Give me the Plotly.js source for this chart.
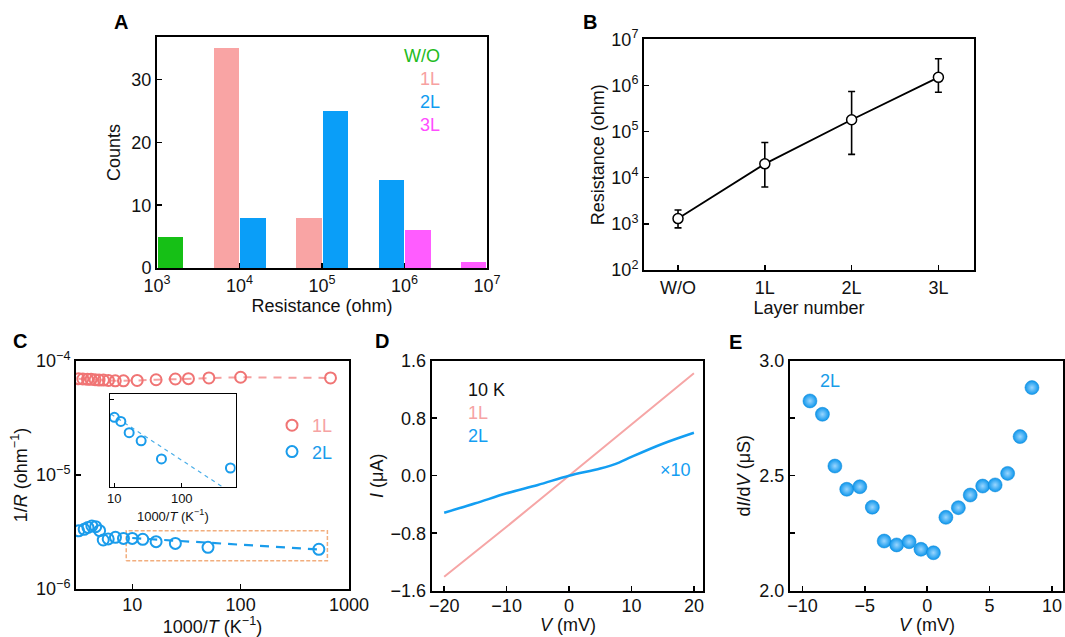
<!DOCTYPE html>
<html><head><meta charset="utf-8">
<script src="https://cdn.plot.ly/plotly-3.0.1.min.js"></script>
<style>html,body{margin:0;padding:0;background:#fff}#chart{width:1065px;height:637px}</style>
</head><body><div id="chart"></div>
<script>
// ---------- DATA ----------
// Panel A: histogram of resistance (bins given as log10(R) centres)
const aTickExp = [3, 4, 5, 6, 7];
const aTickText = ['10<sup>3</sup>', '10<sup>4</sup>', '10<sup>5</sup>', '10<sup>6</sup>', '10<sup>7</sup>'];
const woLogR = [3.165];            const woCounts = [5];
const l1LogR = [3.84, 4.84];       const l1Counts = [35, 8];
const l2LogR = [4.165, 5.165, 5.84]; const l2Counts = [8, 25, 14];
const l3LogR = [6.165, 6.835];     const l3Counts = [6, 1];
const aCountTicks = [0, 10, 20, 30];

// Panel B: resistance vs layer number
const bLayers = ['W/O', '1L', '2L', '3L'];
const bResistance = [1300, 20000, 180000, 1500000];
const bUpper = [2000, 58000, 740000, 3800000];
const bLower = [820, 6300, 32000, 710000];
const bTickVals = [1e2, 1e3, 1e4, 1e5, 1e6, 1e7];
const bTickText = ['10<sup>2</sup>', '10<sup>3</sup>', '10<sup>4</sup>', '10<sup>5</sup>', '10<sup>6</sup>', '10<sup>7</sup>'];

// Panel C: 1/R vs 1000/T
const c1LinvT = [3.2, 3.5, 3.86, 4.17, 4.54, 4.94, 5.42, 6.03, 6.97, 8.3, 11.1, 16.6, 25, 33, 51, 100, 675];
const c1LG = [7.0e-5, 6.95e-5, 6.9e-5, 6.9e-5, 6.85e-5, 6.8e-5, 6.8e-5, 6.75e-5, 6.7e-5, 6.7e-5, 6.75e-5, 6.85e-5, 6.95e-5, 7.0e-5, 7.1e-5, 7.2e-5, 7.1e-5];
const c2LinvT = [3.2, 3.6, 3.9, 4.24, 4.6, 5.0, 5.4, 6.0, 7.0, 8.3, 10, 12.5, 16.6, 25, 50, 527];
const c2LG = [3.24e-6, 3.34e-6, 3.47e-6, 3.57e-6, 3.52e-6, 3.25e-6, 2.69e-6, 2.75e-6, 2.84e-6, 2.78e-6, 2.78e-6, 2.73e-6, 2.60e-6, 2.51e-6, 2.32e-6, 2.23e-6];
const c2LFitX = [10, 525];
const c2LFitY = [2.8e-6, 2.22e-6];
const cBoxX = [8.8, 632];
const cBoxY = [1.77e-6, 3.25e-6];
const cInsetStart = 10;            // inset shows 2L points from index 10 on
const cInsetFitX = [8.9, 412];
const cInsetFitY = [2.82e-6, 2.05e-6];

// Panel D: I-V at 10 K (2L scaled x10)
const dV = [-20, -15, -10, -5, 0, 5, 10, 15, 20];
const d1LI = [-1.405, -1.06, -0.71, -0.355, 0, 0.36, 0.72, 1.07, 1.425];
const d2LV = [-20, -15, -10, -5, 0, 5, 8, 10, 15, 20];
const d2LIx10 = [-0.515, -0.384, -0.245, -0.129, 0, 0.10, 0.183, 0.262, 0.445, 0.598];

// Panel E: dI/dV vs V (2L)
const eV = [-9.4, -8.4, -7.4, -6.45, -5.4, -4.4, -3.45, -2.45, -1.45, -0.5, 0.5, 1.5, 2.5, 3.45, 4.45, 5.45, 6.45, 7.45, 8.4];
const eG = [2.825, 2.767, 2.542, 2.441, 2.452, 2.363, 2.216, 2.199, 2.213, 2.180, 2.165, 2.319, 2.361, 2.416, 2.455, 2.460, 2.510, 2.670, 2.883];

// ---------- STYLE ----------
const W = 1065, H = 637;
const FONT = 'Liberation Sans, Arial, Helvetica, sans-serif';
const px = v => v / W, py = v => 1 - v / H;
const GREEN = '#16c016', PINK = '#f9a4a4', BLUE = '#0a9ef8', MAGENTA = '#ff5cff';
const RED_C = '#f07474', BLUE_C = '#1a9ceb';

const baseAxis = (extra) => Object.assign({
  showline: true, mirror: true, linecolor: '#000', linewidth: 2,
  ticks: 'inside', ticklen: 5, tickwidth: 1.5, tickcolor: '#000',
  showgrid: false, zeroline: false, fixedrange: true,
  tickfont: {family: FONT, size: 18, color: '#111'}
}, extra);
const ttl = (text, standoff) => ({text, font: {family: FONT, size: 18, color: '#111'}, standoff});

const traces = [];
// A
const barCommon = {type: 'bar', width: 0.31, xaxis: 'x', yaxis: 'y', showlegend: false, hoverinfo: 'skip', marker: {line: {width: 0}}};
traces.push(Object.assign({}, barCommon, {x: woLogR, y: woCounts, marker: {color: GREEN}}));
traces.push(Object.assign({}, barCommon, {x: l1LogR, y: l1Counts, marker: {color: PINK}}));
traces.push(Object.assign({}, barCommon, {x: l2LogR, y: l2Counts, marker: {color: BLUE}}));
traces.push(Object.assign({}, barCommon, {x: l3LogR, y: l3Counts, marker: {color: MAGENTA}}));
// B
traces.push({
  type: 'scatter', mode: 'lines+markers', x: bLayers, y: bResistance, xaxis: 'x2', yaxis: 'y2', showlegend: false,
  line: {color: '#000', width: 1.8},
  marker: {symbol: 'circle', size: 10, color: '#fff', line: {color: '#000', width: 1.5}},
  error_y: {type: 'data', symmetric: false,
    array: bUpper.map((u, i) => u - bResistance[i]),
    arrayminus: bLower.map((l, i) => bResistance[i] - l),
    color: '#000', thickness: 1.6, width: 3.5}
});
// C main
traces.push({type: 'scatter', mode: 'lines', x: c1LinvT, y: c1LG, xaxis: 'x3', yaxis: 'y3', showlegend: false,
  line: {color: '#f5a0a0', width: 2, dash: '8px,7px'}});
traces.push({type: 'scatter', mode: 'lines', x: c2LFitX, y: c2LFitY, xaxis: 'x3', yaxis: 'y3', showlegend: false,
  line: {color: BLUE_C, width: 2.2, dash: '9px,7px'}});
traces.push({type: 'scatter', mode: 'lines', xaxis: 'x3', yaxis: 'y3', showlegend: false,
  x: [cBoxX[0], cBoxX[1], cBoxX[1], cBoxX[0], cBoxX[0]],
  y: [cBoxY[0], cBoxY[0], cBoxY[1], cBoxY[1], cBoxY[0]],
  line: {color: '#f2ae7e', width: 1.5, dash: '4px,2px'}});
traces.push({type: 'scatter', mode: 'markers', x: c1LinvT, y: c1LG, xaxis: 'x3', yaxis: 'y3',
  name: '<span style="color:#f6a3a3">1L</span>',
  marker: {symbol: 'circle-open', size: 11, color: RED_C, line: {width: 2}}});
traces.push({type: 'scatter', mode: 'markers', x: c2LinvT, y: c2LG, xaxis: 'x3', yaxis: 'y3',
  name: '<span style="color:#1a9ceb">2L</span>',
  marker: {symbol: 'circle-open', size: 11, color: BLUE_C, line: {width: 2}}});
// C inset
traces.push({type: 'scatter', mode: 'lines', x: cInsetFitX, y: cInsetFitY, xaxis: 'x4', yaxis: 'y4', showlegend: false,
  line: {color: '#4aaee8', width: 1.2, dash: '4px,4px'}});
traces.push({type: 'scatter', mode: 'markers', x: c2LinvT.slice(cInsetStart), y: c2LG.slice(cInsetStart),
  xaxis: 'x4', yaxis: 'y4', showlegend: false,
  marker: {symbol: 'circle-open', size: 9, color: BLUE_C, line: {width: 2}}});
// D
traces.push({type: 'scatter', mode: 'lines', x: dV, y: d1LI, xaxis: 'x5', yaxis: 'y5', showlegend: false,
  line: {color: '#f6a6a6', width: 2}});
traces.push({type: 'scatter', mode: 'lines', x: d2LV, y: d2LIx10, xaxis: 'x5', yaxis: 'y5', showlegend: false,
  line: {color: '#139ef2', width: 2.5, shape: 'spline', smoothing: 1}});
// E
traces.push({type: 'scatter', mode: 'markers', x: eV, y: eG, xaxis: 'x6', yaxis: 'y6', showlegend: false,
  marker: {symbol: 'circle', size: 14, color: '#0d96ec', line: {color: '#0a86d6', width: 0.5},
    gradient: {type: 'radial', color: '#9ad6ff'}}});

const ann = (text, x, y, opts) => Object.assign({text, x: px(x), y: py(y), xref: 'paper', yref: 'paper',
  xanchor: 'center', yanchor: 'middle',
  showarrow: false, font: {family: FONT, size: 18, color: '#111'}}, opts || {});
const bold = (t, x, y) => ann('<b>' + t + '</b>', x, y, {font: {family: FONT, size: 20, color: '#000'}});

const layout = {
  width: W, height: H, margin: {l: 0, r: 0, t: 0, b: 0},
  paper_bgcolor: '#fff', plot_bgcolor: 'rgba(0,0,0,0)',
  font: {family: FONT, size: 18, color: '#111'},
  barmode: 'overlay', bargap: 0,
  showlegend: true,
  legend: {x: px(272), y: py(407), xanchor: 'left', yanchor: 'top', bgcolor: 'rgba(0,0,0,0)',
    font: {family: FONT, size: 18}, itemwidth: 30, tracegroupgap: 0},
  xaxis: baseAxis({domain: [px(157), px(487)], anchor: 'y', range: [3, 7], tickvals: aTickExp, ticktext: aTickText,
    title: ttl('Resistance (ohm)', 2)}),
  yaxis: baseAxis({domain: [py(268), py(37)], anchor: 'x', range: [0, 36.8], tickvals: aCountTicks,
    title: ttl('Counts', 6)}),
  xaxis2: baseAxis({domain: [px(644), px(974)], anchor: 'y2', type: 'category', range: [-0.392, 3.41],
    title: ttl('Layer number', 4)}),
  yaxis2: baseAxis({domain: [py(270), py(39.3)], anchor: 'x2', type: 'log', range: [2, 7],
    tickvals: bTickVals, ticktext: bTickText, title: ttl('Resistance (ohm)', 2)}),
  xaxis3: baseAxis({domain: [px(76), px(349)], anchor: 'y3', type: 'log', range: [0.481, 3.0], ticklabelstandoff: -2,
    tickvals: [10, 100, 1000], ticktext: ['10', '100', '1000'], title: ttl('1000/<i>T</i> (K<sup>−1</sup>)', 4)}),
  yaxis3: baseAxis({domain: [py(589), py(361)], anchor: 'x3', type: 'log', range: [-6, -4],
    tickvals: [1e-6, 1e-5, 1e-4], ticktext: ['10<sup>−6</sup>', '10<sup>−5</sup>', '10<sup>−4</sup>'],
    title: ttl('1/<i>R</i> (ohm<sup>−1</sup>)', 4)}),
  xaxis4: baseAxis({domain: [px(110), px(235.7)], anchor: 'y4', type: 'log', range: [0.936, 2.80],
    linewidth: 1, ticklen: 4, tickwidth: 1, tickvals: [10, 100], ticktext: ['10', '100'],
    tickfont: {family: FONT, size: 13, color: '#111'},
    title: {text: '1000/<i>T</i> (K<sup>−1</sup>)', font: {family: FONT, size: 13, color: '#111'}, standoff: 6}}),
  yaxis4: baseAxis({domain: [py(486.7), py(394)], anchor: 'x4', type: 'log', range: [-5.687, -5.512],
    linewidth: 1, ticklen: 4, tickwidth: 1, tickvals: [3e-6], showticklabels: false}),
  xaxis5: baseAxis({domain: [px(431.7), px(703.3)], anchor: 'y5', range: [-22, 21.5], tickvals: [-20, -10, 0, 10, 20],
    ticklabelstandoff: -2}),
  yaxis5: baseAxis({domain: [py(590.7), py(360.7)], anchor: 'x5', range: [-1.6, 1.6], tickvals: [-1.6, -0.8, 0, 0.8, 1.6],
    tickformat: '.1f', title: ttl('<i>I</i> (μA)', 2)}),
  xaxis6: baseAxis({domain: [px(790), px(1062.5)], anchor: 'y6', range: [-11, 10.85], tickvals: [-10, -5, 0, 5, 10],
    ticklabelstandoff: -2}),
  yaxis6: baseAxis({domain: [py(590.7), py(360.7)], anchor: 'x6', range: [2, 3], tickvals: [2, 2.25, 2.5, 2.75, 3],
    ticktext: ['2.0', '', '2.5', '', '3.0'], title: ttl('d<i>I</i>/d<i>V</i> (μS)', 4)}),
  annotations: [
    bold('A', 121, 22), bold('B', 590, 22), bold('C', 20, 341), bold('D', 382, 341), bold('E', 735, 342),
    // x-axis titles of D and E
    ann('<i>V</i> (mV)', 568, 625),
    ann('<i>V</i> (mV)', 927, 625),
    // panel A labels
    ann('W/O', 442, 56, {xanchor: 'right', font: {family: FONT, size: 18, color: '#22bb22'}}),
    ann('1L', 442, 79, {xanchor: 'right', font: {family: FONT, size: 18, color: '#f7a1a1'}}),
    ann('2L', 442, 102, {xanchor: 'right', font: {family: FONT, size: 18, color: '#109cf0'}}),
    ann('3L', 442, 125, {xanchor: 'right', font: {family: FONT, size: 18, color: '#ff4dff'}}),
    // panel D labels
    ann('10 K', 466, 390, {xanchor: 'left', font: {family: FONT, size: 18, color: '#111'}}),
    ann('1L', 466, 413, {xanchor: 'left', font: {family: FONT, size: 18, color: '#f6a3a3'}}),
    ann('2L', 466, 436, {xanchor: 'left', font: {family: FONT, size: 18, color: '#139ef2'}}),
    ann('×10', 675, 470, {font: {family: FONT, size: 18, color: '#139ef2'}}),
    // panel E label
    ann('2L', 830, 381, {font: {family: FONT, size: 18, color: '#189ce8'}})
  ]
};

Plotly.newPlot('chart', traces, layout, {staticPlot: true, displayModeBar: false});
</script></body></html>
